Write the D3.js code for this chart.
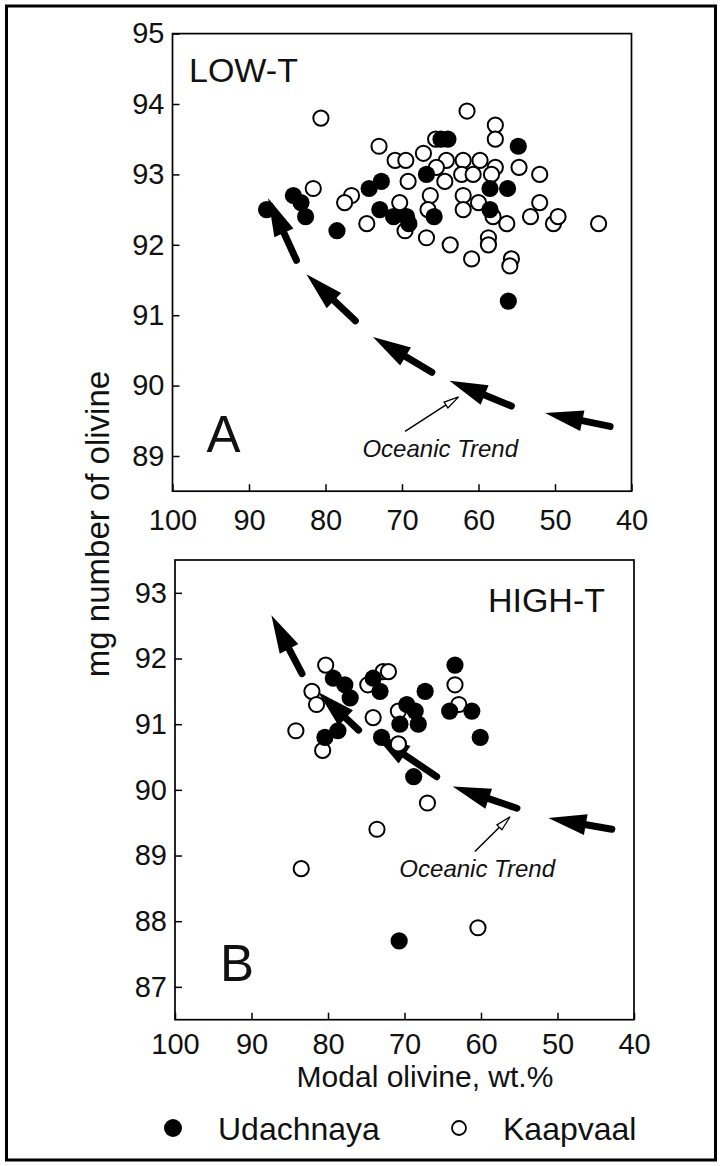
<!DOCTYPE html>
<html>
<head>
<meta charset="utf-8">
<title>mg number of olivine vs modal olivine</title>
<script src="https://cdn.jsdelivr.net/npm/d3@7"></script>
<style>
  body { margin: 0; background: #fff; }
  svg text { font-family: "Liberation Sans", Arial, Helvetica, sans-serif; fill: #111; }
</style>
</head>
<body>
<svg id="chart" width="722" height="1166"></svg>
<script>
// ---- values ----
var xTicks = [100, 90, 80, 70, 60, 50, 40];
var yTicksA = [89, 90, 91, 92, 93, 94, 95];
var yTicksB = [87, 88, 89, 90, 91, 92, 93];

// LOW-T, [modal olivine wt.%, mg number]
var udachnayaA = [
  [87.7, 92.5], [84.2, 92.7], [83.2, 92.6], [82.6, 92.4], [78.5, 92.2],
  [74.3, 92.8], [72.7, 92.9], [72.9, 92.5], [71.1, 92.4], [69.4, 92.4],
  [69.1, 92.3], [64.9, 93.5], [64.0, 93.5], [54.8, 93.4], [66.8, 93.0],
  [58.5, 92.8], [56.2, 92.8], [58.5, 92.5], [65.8, 92.4], [56.1, 91.2]
];
var kaapvaalA = [
  [80.6, 93.8], [73.0, 93.4], [70.9, 93.2], [69.5, 93.2], [69.2, 92.9],
  [81.6, 92.8], [76.6, 92.7], [77.5, 92.6], [74.6, 92.3], [70.3, 92.6],
  [69.6, 92.2], [61.5, 93.9], [57.8, 93.7], [57.8, 93.5], [65.6, 93.5],
  [67.2, 93.3], [64.2, 93.2], [62.0, 93.2], [59.8, 93.2], [57.8, 93.1],
  [54.7, 93.1], [52.0, 93.0], [64.4, 92.9], [62.2, 93.0], [60.7, 93.0],
  [65.5, 93.1], [66.3, 92.7], [62.0, 92.7], [66.6, 92.5], [62.0, 92.5],
  [60.0, 92.6], [58.3, 93.0], [58.1, 92.4], [56.3, 92.3], [53.2, 92.4],
  [52.0, 92.6], [50.2, 92.3], [49.6, 92.4], [44.3, 92.3], [66.8, 92.1],
  [63.7, 92.0], [60.9, 91.8], [58.7, 92.1], [58.7, 92.0], [55.7, 91.8],
  [55.9, 91.7]
];

// HIGH-T
var udachnayaB = [
  [79.3, 91.7], [77.8, 91.6], [77.1, 91.4], [80.4, 90.8], [78.7, 90.9],
  [74.1, 91.7], [73.2, 91.5], [67.3, 91.5], [69.7, 91.3], [68.6, 91.2],
  [68.2, 91.0], [70.6, 91.0], [73.0, 90.8], [68.8, 90.2], [63.4, 91.9],
  [64.1, 91.2], [61.2, 91.2], [60.1, 90.8], [70.7, 87.7]
];
var kaapvaalB = [
  [80.3, 91.9], [82.1, 91.5], [81.5, 91.3], [84.2, 90.9], [80.7, 90.6],
  [72.8, 91.8], [72.1, 91.8], [74.8, 91.6], [74.1, 91.1], [70.8, 91.2],
  [70.8, 90.7], [67.0, 89.8], [63.4, 91.6], [62.9, 91.3], [73.6, 89.4],
  [83.5, 88.8], [60.4, 87.9]
];

// oceanic trend arrows: [tipX, tipY, tailX, tailY]
var trendA = [
  [51.3, 89.61, 42.8, 89.42], [63.8, 90.07, 55.7, 89.71], [73.8, 90.69, 66.1, 90.19],
  [82.5, 91.58, 76.1, 90.92], [87.5, 92.66, 83.8, 91.78]
];
var trendB = [
  [51.2, 89.57, 42.9, 89.40], [63.7, 90.05, 55.3, 89.72], [74.1, 90.86, 65.8, 90.20],
  [81.3, 91.49, 76.0, 90.91], [87.4, 92.66, 83.4, 91.77]
];
// "Oceanic Trend" pointer: [fromX, fromY, tipX, tipY], label position [x, y]
var pointerA = [69.6, 89.35, 62.6, 89.84], labelA = [65.0, 88.98];
var pointerB = [60.8, 89.06, 56.2, 89.59], labelB = [60.5, 88.67];

var svg = d3.select("#chart");

// outer border
svg.append("rect")
  .attr("x", 6.5).attr("y", 6)
  .attr("width", 709).attr("height", 1154)
  .attr("fill", "none").attr("stroke", "#000").attr("stroke-width", 3);

function drawPanel(p) {
  var x = d3.scaleLinear().domain([100, 40]).range([p.left, p.right]);
  var y = d3.scaleLinear().domain(p.yDomain).range([p.bottom, p.top]);
  var g = svg.append("g");

  // axes, ticks pointing inward
  var ya = g.append("g")
    .attr("transform", "translate(" + p.left + ",0)")
    .call(d3.axisLeft(y).tickValues(p.yTicks).tickFormat(d3.format("d"))
      .tickSize(-7).tickPadding(8));
  var xa = g.append("g")
    .attr("transform", "translate(0," + p.bottom + ")")
    .call(d3.axisBottom(x).tickValues(xTicks).tickFormat(d3.format("d"))
      .tickSize(-7).tickPadding(p.xPad));
  [ya, xa].forEach(function(a) {
    a.select(".domain").remove();
    a.attr("font-size", 29).attr("font-family", null);
    a.selectAll("line").attr("stroke", "#000").attr("stroke-width", 1.5);
    a.selectAll("text").attr("fill", "#111");
  });

  g.append("rect")
    .attr("x", p.left).attr("y", p.top)
    .attr("width", p.right - p.left).attr("height", p.bottom - p.top)
    .attr("fill", "none").attr("stroke", "#000").attr("stroke-width", 1.7);

  // thick trend arrows
  p.trend.forEach(function(d) {
    var tx = x(d[0]), ty = y(d[1]), sx = x(d[2]), sy = y(d[3]);
    var len = Math.hypot(tx - sx, ty - sy);
    var ux = (tx - sx) / len, uy = (ty - sy) / len;
    var nx = -uy, ny = ux;
    var hl = 38, hw = 10.5;
    var bx = tx - ux * hl, by = ty - uy * hl;
    g.append("line")
      .attr("x1", sx).attr("y1", sy)
      .attr("x2", bx + ux * 4).attr("y2", by + uy * 4)
      .attr("stroke", "#000").attr("stroke-width", 7).attr("stroke-linecap", "round");
    g.append("path")
      .attr("d", "M" + tx + "," + ty +
        "L" + (bx + nx * hw) + "," + (by + ny * hw) +
        "L" + (bx - nx * hw) + "," + (by - ny * hw) + "Z")
      .attr("fill", "#000");
  });

  // thin pointer with open head
  var fx = x(p.pointer[0]), fy = y(p.pointer[1]), px = x(p.pointer[2]), py = y(p.pointer[3]);
  var pl = Math.hypot(px - fx, py - fy);
  var vx = (px - fx) / pl, vy = (py - fy) / pl;
  var hx = px - vx * 15, hy = py - vy * 15;
  g.append("line")
    .attr("x1", fx).attr("y1", fy).attr("x2", hx).attr("y2", hy)
    .attr("stroke", "#000").attr("stroke-width", 1.5);
  g.append("path")
    .attr("d", "M" + px + "," + py +
      "L" + (hx - vy * 3.5) + "," + (hy + vx * 3.5) +
      "L" + (hx + vy * 3.5) + "," + (hy - vx * 3.5) + "Z")
    .attr("fill", "#fff").attr("stroke", "#000").attr("stroke-width", 1.3);
  g.append("text")
    .attr("x", x(p.label[0])).attr("y", y(p.label[1]))
    .attr("text-anchor", "middle")
    .attr("font-size", 24).attr("font-style", "italic")
    .text("Oceanic Trend");

  // points
  g.append("g").selectAll("circle")
    .data(p.open).enter().append("circle")
    .attr("cx", function(d) { return x(d[0]); })
    .attr("cy", function(d) { return y(d[1]); })
    .attr("r", 7.6)
    .attr("fill", "#fff").attr("stroke", "#000").attr("stroke-width", 2);
  g.append("g").selectAll("circle")
    .data(p.filled).enter().append("circle")
    .attr("cx", function(d) { return x(d[0]); })
    .attr("cy", function(d) { return y(d[1]); })
    .attr("r", 8.6)
    .attr("fill", "#000");

  // panel titles
  g.append("text")
    .attr("x", p.titleX).attr("y", p.titleY)
    .attr("text-anchor", p.titleAnchor)
    .attr("font-size", 34)
    .text(p.title);
  g.append("text")
    .attr("x", p.left + p.letterDx).attr("y", p.bottom - 39)
    .attr("font-size", 51)
    .text(p.letter);
}

drawPanel({
  left: 172.5, right: 631.5, top: 33.6, bottom: 491.2,
  yDomain: [88.5, 95], yTicks: yTicksA, xPad: 18,
  filled: udachnayaA, open: kaapvaalA,
  trend: trendA, pointer: pointerA, label: labelA,
  title: "LOW-T", titleX: 189, titleY: 82, titleAnchor: "start",
  letter: "A", letterDx: 34
});

drawPanel({
  left: 175, right: 634, top: 560, bottom: 1019.7,
  yDomain: [86.5, 93.5], yTicks: yTicksB, xPad: 14,
  filled: udachnayaB, open: kaapvaalB,
  trend: trendB, pointer: pointerB, label: labelB,
  title: "HIGH-T", titleX: 605, titleY: 612, titleAnchor: "end",
  letter: "B", letterDx: 45
});

// axis titles
svg.append("text")
  .attr("transform", "translate(109,524) rotate(-90)")
  .attr("text-anchor", "middle")
  .attr("font-size", 33)
  .text("mg number of olivine");

svg.append("text")
  .attr("x", 425).attr("y", 1087)
  .attr("text-anchor", "middle")
  .attr("font-size", 30)
  .text("Modal olivine, wt.%");

// legend
svg.append("circle").attr("cx", 173).attr("cy", 1128).attr("r", 9).attr("fill", "#000");
svg.append("text").attr("x", 218).attr("y", 1140).attr("font-size", 32).text("Udachnaya");
svg.append("circle").attr("cx", 459).attr("cy", 1128).attr("r", 7)
  .attr("fill", "#fff").attr("stroke", "#000").attr("stroke-width", 1.8);
svg.append("text").attr("x", 503).attr("y", 1140).attr("font-size", 32).text("Kaapvaal");
</script>
</body>
</html>
